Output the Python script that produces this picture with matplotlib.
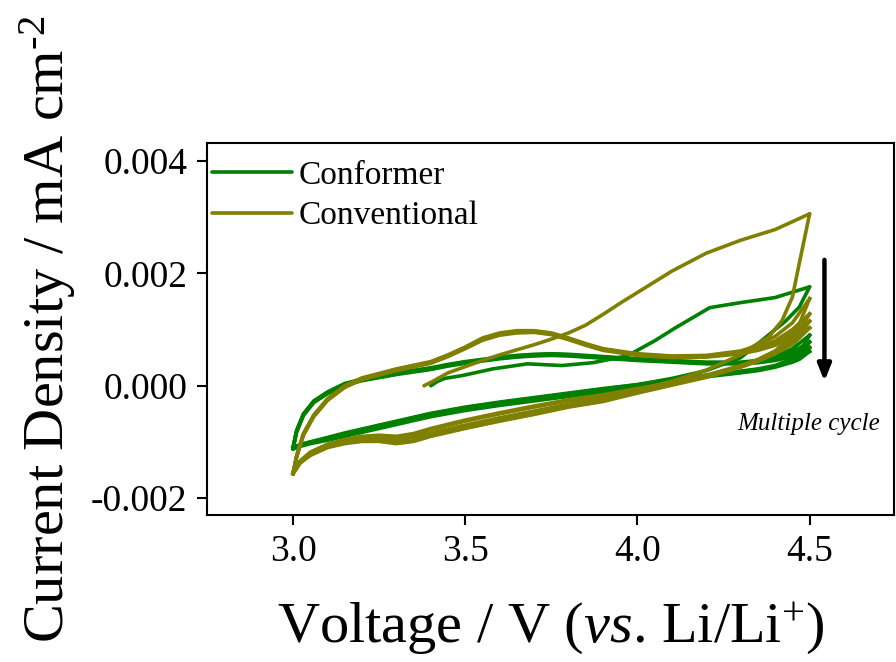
import matplotlib
matplotlib.use("Agg")
import matplotlib.pyplot as plt

plt.rcParams['font.family'] = ['Liberation Serif', 'DejaVu Serif']
plt.rcParams['mathtext.fontset'] = 'custom'
plt.rcParams['mathtext.rm'] = 'Liberation Serif'
plt.rcParams['mathtext.it'] = 'Liberation Serif:italic'

GREEN = '#008000'
OLIVE = '#808000'

#---------data (V vs Li/Li+, mA cm-2)---------
# shared voltage grids for the repeated loops
V_UP = [3.00, 3.01, 3.03, 3.06, 3.10, 3.15, 3.20, 3.30, 3.40, 3.45, 3.50, 3.55, 3.60, 3.65,
        3.70, 3.75, 3.80, 3.85, 3.90, 4.00, 4.10, 4.20, 4.30, 4.35, 4.40, 4.45, 4.50]
V_DOWN = [4.50, 4.47, 4.45, 4.40, 4.35, 4.30, 4.20, 4.10, 4.00, 3.90, 3.80, 3.70, 3.60, 3.50,
          3.40, 3.35, 3.30, 3.25, 3.20, 3.15, 3.10, 3.05, 3.02, 3.00]

# Conformer, first cycle
G_FIRST_UP_V = [3.40, 3.42, 3.44, 3.49, 3.58, 3.68, 3.78, 3.87, 3.97, 4.05, 4.11, 4.21, 4.30, 4.40, 4.50]
G_FIRST_UP_I = [0.00000, 0.00008, 0.00013, 0.00018, 0.00030, 0.00039, 0.00036, 0.00041, 0.00053,
                0.00080, 0.00103, 0.00139, 0.00148, 0.00157, 0.00176]
G_FIRST_DN_V = [4.50, 4.47, 4.43, 4.37, 4.30, 4.20, 4.10, 4.00, 3.90, 3.80, 3.70, 3.60, 3.50, 3.40,
                3.30, 3.20, 3.10, 3.05, 3.02, 3.00]
G_FIRST_DN_I = [0.00176, 0.00140, 0.00115, 0.00085, 0.00050, 0.00027, 0.00013, 0.00002, -0.00006,
                -0.00014, -0.00022, -0.00030, -0.00039, -0.00050, -0.00064, -0.00078, -0.00093,
                -0.00100, -0.00105, -0.00110]

# Conformer, later cycles
G_UP = [
    [-0.00109, -0.00080, -0.00050, -0.00027, -0.00011, 0.00004, 0.00012, 0.00023, 0.00032, 0.00038,
     0.00043, 0.00047, 0.00051, 0.00054, 0.00056, 0.00057, 0.00056, 0.00054, 0.00052, 0.00048,
     0.00045, 0.00042, 0.00042, 0.00045, 0.00052, 0.00066, 0.00090],
    [-0.00110, -0.00081, -0.00051, -0.00028, -0.00012, 0.00003, 0.00011, 0.00022, 0.00031, 0.00037,
     0.00042, 0.00046, 0.00050, 0.00053, 0.00055, 0.00056, 0.00055, 0.00053, 0.00051, 0.00047,
     0.00044, 0.00041, 0.00041, 0.00043, 0.00049, 0.00060, 0.00078],
    [-0.00111, -0.00082, -0.00052, -0.00029, -0.00013, 0.00002, 0.00010, 0.00021, 0.00030, 0.00036,
     0.00041, 0.00045, 0.00049, 0.00052, 0.00054, 0.00055, 0.00054, 0.00052, 0.00050, 0.00046,
     0.00043, 0.00040, 0.00040, 0.00042, 0.00047, 0.00056, 0.00068],
    [-0.00112, -0.00083, -0.00053, -0.00030, -0.00014, 0.00001, 0.00009, 0.00020, 0.00029, 0.00035,
     0.00040, 0.00044, 0.00048, 0.00051, 0.00053, 0.00054, 0.00053, 0.00051, 0.00049, 0.00045,
     0.00042, 0.00039, 0.00039, 0.00041, 0.00045, 0.00052, 0.00061],
]
G_DN = [
    [0.00090, 0.00060, 0.00048, 0.00036, 0.00030, 0.00026, 0.00019, 0.00011, 0.00002, -0.00005,
     -0.00013, -0.00021, -0.00029, -0.00038, -0.00049, -0.00056, -0.00063, -0.00070, -0.00077,
     -0.00084, -0.00092, -0.00100, -0.00105, -0.00110],
    [0.00078, 0.00055, 0.00046, 0.00035, 0.00029, 0.00025, 0.00018, 0.00010, 0.00000, -0.00007,
     -0.00015, -0.00023, -0.00031, -0.00040, -0.00051, -0.00058, -0.00065, -0.00072, -0.00079,
     -0.00086, -0.00094, -0.00101, -0.00106, -0.00111],
    [0.00068, 0.00050, 0.00044, 0.00034, 0.00028, 0.00024, 0.00017, 0.00008, -0.00002, -0.00009,
     -0.00017, -0.00025, -0.00033, -0.00042, -0.00053, -0.00060, -0.00067, -0.00074, -0.00081,
     -0.00088, -0.00095, -0.00102, -0.00107, -0.00112],
    [0.00061, 0.00047, 0.00042, 0.00033, 0.00027, 0.00023, 0.00016, 0.00007, -0.00003, -0.00011,
     -0.00019, -0.00027, -0.00035, -0.00044, -0.00055, -0.00062, -0.00069, -0.00076, -0.00083,
     -0.00090, -0.00097, -0.00103, -0.00108, -0.00112],
]

# Conventional, first cycle
O_FIRST_UP_V = [3.38, 3.40, 3.45, 3.50, 3.55, 3.60, 3.65, 3.70, 3.75, 3.80, 3.85, 3.90, 3.95, 4.00,
                4.05, 4.10, 4.20, 4.30, 4.40, 4.45, 4.50]
O_FIRST_UP_I = [0.00000, 0.00006, 0.00023, 0.00034, 0.00045, 0.00055, 0.00064, 0.00073, 0.00083,
                0.00094, 0.00108, 0.00127, 0.00147, 0.00166, 0.00185, 0.00204, 0.00236, 0.00259,
                0.00278, 0.00292, 0.00306]
O_FIRST_DN_V = [4.50, 4.47, 4.45, 4.42, 4.38, 4.33, 4.30, 4.20, 4.10, 4.00, 3.90, 3.80, 3.70, 3.60,
                3.50, 3.40, 3.35, 3.30, 3.25, 3.20, 3.15, 3.10, 3.05, 3.02, 3.00]
O_FIRST_DN_I = [0.00306, 0.00218, 0.00158, 0.00116, 0.00086, 0.00068, 0.00055, 0.00028, 0.00008,
                -0.00008, -0.00022, -0.00033, -0.00045, -0.00057, -0.00070, -0.00084, -0.00092,
                -0.00097, -0.00094, -0.00094, -0.00098, -0.00106, -0.00121, -0.00136, -0.00154]

# Conventional, later cycles
O_UP = [
    [-0.00155, -0.00125, -0.00085, -0.00052, -0.00023, 0.00000, 0.00014, 0.00030, 0.00043, 0.00055,
     0.00069, 0.00085, 0.00094, 0.00098, 0.00098, 0.00094, 0.00085, 0.00075, 0.00066, 0.00057,
     0.00053, 0.00054, 0.00062, 0.00072, 0.00088, 0.00112, 0.00155],
    [-0.00156, -0.00126, -0.00086, -0.00053, -0.00024, -0.00001, 0.00013, 0.00029, 0.00042, 0.00054,
     0.00068, 0.00084, 0.00093, 0.00097, 0.00097, 0.00093, 0.00084, 0.00074, 0.00065, 0.00056,
     0.00052, 0.00053, 0.00060, 0.00068, 0.00080, 0.00100, 0.00128],
    [-0.00156, -0.00127, -0.00087, -0.00054, -0.00025, -0.00002, 0.00012, 0.00028, 0.00041, 0.00053,
     0.00067, 0.00082, 0.00091, 0.00096, 0.00096, 0.00092, 0.00083, 0.00073, 0.00064, 0.00055,
     0.00051, 0.00052, 0.00058, 0.00065, 0.00076, 0.00093, 0.00115],
    [-0.00157, -0.00128, -0.00088, -0.00055, -0.00026, -0.00003, 0.00011, 0.00027, 0.00040, 0.00052,
     0.00066, 0.00081, 0.00090, 0.00094, 0.00095, 0.00091, 0.00082, 0.00072, 0.00063, 0.00054,
     0.00050, 0.00051, 0.00057, 0.00063, 0.00072, 0.00087, 0.00103],
]
O_DN = [
    [0.00155, 0.00110, 0.00090, 0.00062, 0.00047, 0.00036, 0.00019, 0.00006, -0.00005, -0.00016,
     -0.00025, -0.00036, -0.00048, -0.00061, -0.00076, -0.00085, -0.00090, -0.00088, -0.00090,
     -0.00096, -0.00104, -0.00118, -0.00134, -0.00155],
    [0.00128, 0.00098, 0.00082, 0.00060, 0.00045, 0.00034, 0.00016, 0.00002, -0.00012, -0.00027,
     -0.00037, -0.00050, -0.00062, -0.00075, -0.00089, -0.00098, -0.00102, -0.00098, -0.00098,
     -0.00102, -0.00109, -0.00123, -0.00137, -0.00156],
    [0.00115, 0.00090, 0.00078, 0.00058, 0.00044, 0.00034, 0.00018, 0.00004, -0.00007, -0.00018,
     -0.00027, -0.00038, -0.00050, -0.00063, -0.00078, -0.00087, -0.00092, -0.00090, -0.00092,
     -0.00097, -0.00105, -0.00119, -0.00135, -0.00156],
    [0.00103, 0.00085, 0.00074, 0.00057, 0.00044, 0.00033, 0.00015, 0.00001, -0.00013, -0.00028,
     -0.00038, -0.00051, -0.00063, -0.00076, -0.00090, -0.00099, -0.00103, -0.00099, -0.00099,
     -0.00103, -0.00110, -0.00124, -0.00138, -0.00157],
]

X_TICKS = [3.0, 3.5, 4.0, 4.5]
Y_TICKS = [-0.002, 0.000, 0.002, 0.004]

#---------drawing---------
fig = plt.figure(figsize=(8.96, 6.62), dpi=100)
ax = fig.add_axes([207 / 896, (662 - 515) / 662, (894 - 207) / 896, (515 - 143) / 662])

lw = 2.6


def draw_cycles(color, label, first_up, first_dn, ups, dns):
    ax.plot(first_up[0], first_up[1], color=color, lw=lw, label=label, solid_capstyle='round')
    ax.plot(first_dn[0], first_dn[1], color=color, lw=lw, solid_capstyle='round')
    for up, dn in zip(ups, dns):
        ax.plot(V_UP, up, color=color, lw=lw, solid_joinstyle='round')
        ax.plot(V_DOWN, dn, color=color, lw=lw, solid_joinstyle='round')


draw_cycles(GREEN, 'Conformer', (G_FIRST_UP_V, G_FIRST_UP_I), (G_FIRST_DN_V, G_FIRST_DN_I), G_UP, G_DN)
draw_cycles(OLIVE, 'Conventional', (O_FIRST_UP_V, O_FIRST_UP_I), (O_FIRST_DN_V, O_FIRST_DN_I), O_UP, O_DN)

ax.set_xlim(2.75, 4.745)
ax.set_ylim(-0.0023, 0.00432)
ax.set_xticks(X_TICKS)
ax.set_xticklabels([f'{t:.1f}' for t in X_TICKS])
ax.set_yticks(Y_TICKS)
ax.set_yticklabels([f'{t:.3f}' for t in Y_TICKS])
ax.tick_params(axis='both', direction='out', length=7, width=1.5, labelsize=27, pad=7)
for s in ax.spines.values():
    s.set_linewidth(1.5)

ax.set_xlabel(r'Voltage / V ($\mathit{vs}$. Li/Li$^{+}$)', fontsize=42, labelpad=22)
ax.set_ylabel(r'Current Density / mA cm$^{\text{-}2}$', fontsize=42, labelpad=9.5)

ax.legend(loc='upper left', bbox_to_anchor=(0.0025, 0.963), frameon=False, fontsize=24,
          handlelength=2.4, handletextpad=0.2, borderaxespad=0, borderpad=0.1, labelspacing=0.31)

# arrow showing the decay over cycles
ax.annotate('', xy=(4.543, 0.00003), xytext=(4.543, 0.00229),
            arrowprops=dict(arrowstyle='-|>,head_width=0.4,head_length=1.0', color='black', lw=3.2))
ax.text(4.497, -0.00068, 'Multiple cycle', fontsize=18, style='italic', ha='center', va='center')

plt.savefig('out.png', dpi=100)
